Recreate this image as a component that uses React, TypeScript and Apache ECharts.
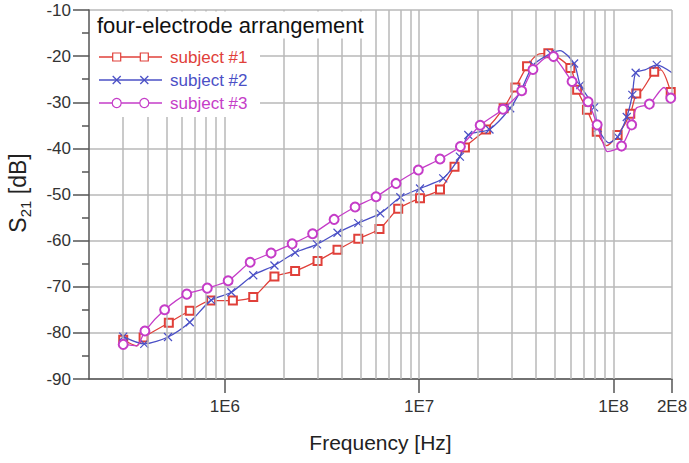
import React, { useEffect, useRef } from "react";
import * as echarts from "echarts";

// [frequency Hz, S21 dB, marker shown (1) or line-only point (0)]
const subject1: number[][] = [
  [3.0e5, -81.5, 1], [3.52e5, -82.8, 0], [3.82e5, -81.0, 1], [5.15e5, -77.8, 1],
  [6.6e5, -75.2, 1], [8.5e5, -73.0, 1], [1.1e6, -73.0, 1], [1.4e6, -72.2, 1],
  [1.8e6, -67.8, 1], [2.3e6, -66.6, 1], [3.0e6, -64.4, 1], [3.8e6, -62.0, 1],
  [4.86e6, -59.6, 1], [6.25e6, -57.5, 1], [7.8e6, -53.1, 1], [1.01e7, -50.8, 1],
  [1.28e7, -48.9, 1], [1.52e7, -44.0, 1], [1.72e7, -39.8, 1], [2.21e7, -35.9, 1],
  [2.72e7, -31.3, 1], [3.13e7, -26.8, 1], [3.59e7, -22.2, 1], [4.1e7, -19.6, 0],
  [4.62e7, -19.4, 1], [6.0e7, -22.6, 1], [6.5e7, -27.3, 1], [7.3e7, -31.6, 1],
  [8.2e7, -36.4, 1], [9.2e7, -39.4, 0], [1.05e8, -37.1, 1], [1.22e8, -32.5, 1],
  [1.31e8, -28.1, 1], [1.4e8, -27.4, 0], [1.62e8, -23.4, 1], [1.75e8, -23.0, 0],
  [1.97e8, -27.8, 1],
];
const subject2: number[][] = [
  [3.0e5, -80.8, 1], [3.85e5, -82.4, 1], [5.1e5, -80.9, 1], [6.6e5, -77.7, 1],
  [8.5e5, -72.9, 1], [1.08e6, -71.2, 1], [1.4e6, -67.5, 1], [1.8e6, -65.4, 1],
  [2.3e6, -62.6, 1], [2.98e6, -60.8, 1], [3.8e6, -58.3, 1], [4.86e6, -56.2, 1],
  [6.3e6, -54.1, 1], [8.0e6, -50.6, 1], [1.01e7, -48.7, 1], [1.33e7, -46.5, 1],
  [1.62e7, -41.8, 1], [1.79e7, -37.1, 1], [2.3e7, -35.9, 1], [2.94e7, -31.3, 1],
  [3.37e7, -27.1, 1], [3.87e7, -21.9, 1], [4.75e7, -19.4, 1], [5.3e7, -18.8, 0],
  [6.27e7, -21.6, 1], [6.75e7, -26.3, 1], [7.95e7, -31.1, 1], [8.3e7, -35.6, 1],
  [9.5e7, -38.8, 0], [1.05e8, -37.5, 1], [1.17e8, -33.2, 1], [1.25e8, -28.4, 1],
  [1.3e8, -23.6, 1], [1.45e8, -23.0, 0], [1.67e8, -21.9, 1], [2.0e8, -23.6, 0],
];
const subject3: number[][] = [
  [3.0e5, -82.5, 1], [3.52e5, -82.8, 0], [3.88e5, -79.6, 1], [4.9e5, -75.0, 1],
  [6.37e5, -71.6, 1], [8.12e5, -70.3, 1], [1.04e6, -68.7, 1], [1.35e6, -64.7, 1],
  [1.73e6, -62.7, 1], [2.22e6, -60.7, 1], [2.83e6, -58.5, 1], [3.65e6, -55.4, 1],
  [4.68e6, -52.7, 1], [6.0e6, -50.5, 1], [7.6e6, -47.6, 1], [9.9e6, -44.7, 1],
  [1.28e7, -42.3, 1], [1.63e7, -39.6, 1], [2.06e7, -35.0, 1], [2.7e7, -31.5, 1],
  [3.37e7, -27.5, 1], [3.85e7, -22.9, 1], [4.7e7, -20.0, 0], [4.91e7, -20.1, 1],
  [6.12e7, -25.5, 1], [7.4e7, -29.9, 1], [8.24e7, -34.9, 1], [8.74e7, -38.2, 0],
  [9.3e7, -40.7, 0], [1.1e8, -39.5, 1], [1.24e8, -34.9, 1], [1.31e8, -31.3, 0],
  [1.53e8, -30.4, 1], [1.82e8, -26.8, 0], [1.97e8, -29.1, 1],
];

const seriesNames = ["subject #1", "subject #2", "subject #3"];
const seriesColors = ["#e0403a", "#4b50c6", "#c53dc8"];
const legendTitle = "four-electrode arrangement";

const xTickValues = [1e6, 1e7, 1e8, 2e8];
const xTickLabels = ["1E6", "1E7", "1E8", "2E8"];
const xGridValues = [
  3e5, 4e5, 5e5, 6e5, 7e5, 8e5, 9e5, 1e6,
  2e6, 3e6, 4e6, 5e6, 6e6, 7e6, 8e6, 9e6, 1e7,
  2e7, 3e7, 4e7, 5e7, 6e7, 7e7, 8e7, 9e7, 1e8, 2e8,
];

const FONT = "'Liberation Sans', Arial, Helvetica, sans-serif";
const GRID = "#b8b8b8";
const AXIS = "#555555";
const X_SYMBOL = "path://M0,0L10,10M10,0L0,10";

const toData = (arr: number[][]) =>
  arr.map(([f, v, m]) => (m ? [f, v] : { value: [f, v], symbol: "none" }));

export default function App() {
  const ref = useRef<HTMLDivElement>(null);

  useEffect(() => {
    document.body.style.margin = "0";
    if (!ref.current) return;
    const chart = echarts.init(ref.current, null, { renderer: "svg" });

    const symbols = ["emptyRect", X_SYMBOL, "emptyCircle"];
    const sizes = [8, 8, 9];
    const datasets = [subject1, subject2, subject3];

    const legendEls: any[] = [
      { type: "rect", z: 100, shape: { x: 90, y: 11.5, width: 280, height: 27 }, style: { fill: "#fff" } },
      { type: "rect", z: 100, shape: { x: 90, y: 38, width: 170, height: 79 }, style: { fill: "#fff" } },
      {
        type: "text", z: 101, x: 97, y: 25,
        style: { text: legendTitle, fontSize: 22, fontFamily: FONT, fill: "#111", verticalAlign: "middle", align: "left" },
      },
      {
        type: "text", z: 101, x: 18, y: 193, rotation: Math.PI / 2,
        style: {
          text: "{a|S}{b|21}{a| [dB]}",
          align: "center",
          verticalAlign: "middle",
          fill: "#222",
          rich: {
            a: { fontSize: 23, fontFamily: FONT, lineHeight: 30, fill: "#222" },
            b: { fontSize: 15, fontFamily: FONT, lineHeight: 15, verticalAlign: "bottom", fill: "#222" },
          },
        },
      },
    ];
    seriesNames.forEach((name, i) => {
      const y = 57 + 23 * i;
      const c = seriesColors[i];
      legendEls.push({ type: "line", z: 101, shape: { x1: 99, y1: y, x2: 162, y2: y }, style: { stroke: c, lineWidth: 1.3 } });
      [116.7, 144.3].forEach((mx) => {
        if (i === 0) {
          legendEls.push({ type: "rect", z: 102, shape: { x: mx - 4, y: y - 4, width: 8, height: 8 }, style: { fill: "#fff", stroke: c, lineWidth: 1.2 } });
        } else if (i === 1) {
          legendEls.push({ type: "line", z: 102, shape: { x1: mx - 4, y1: y - 4, x2: mx + 4, y2: y + 4 }, style: { stroke: c, lineWidth: 1.3 } });
          legendEls.push({ type: "line", z: 102, shape: { x1: mx - 4, y1: y + 4, x2: mx + 4, y2: y - 4 }, style: { stroke: c, lineWidth: 1.3 } });
        } else {
          legendEls.push({ type: "circle", z: 102, shape: { cx: mx, cy: y, r: 4.5 }, style: { fill: "#fff", stroke: c, lineWidth: 1.2 } });
        }
      });
      legendEls.push({
        type: "text", z: 101, x: 170, y: y,
        style: { text: name, fontSize: 17, fontFamily: FONT, fill: c, verticalAlign: "middle", align: "left" },
      });
    });

    const option: any = {
      animation: false,
      backgroundColor: "#fff",
      grid: { left: 89, right: 17, top: 10, bottom: 84, containLabel: false, outerBoundsMode: "none" },
      xAxis: {
        type: "log",
        logBase: 10,
        min: 2e5,
        max: 2e8,
        name: "Frequency [Hz]",
        nameLocation: "middle",
        nameGap: 53,
        nameTextStyle: { fontSize: 21, fontFamily: FONT, color: "#222" },
        axisLine: { show: true, onZero: false, lineStyle: { color: AXIS, width: 1.5 } },
        axisTick: { show: true, length: 14, lineStyle: { color: AXIS, width: 1.5 } },
        minorTick: { show: false },
        splitLine: { show: false },
        axisLabel: {
          margin: 19,
          fontSize: 17,
          fontFamily: FONT,
          color: "#333",
          showMinLabel: false,
          showMaxLabel: true,
          formatter: (v: number) => {
            const i = xTickValues.findIndex((t) => Math.abs(Math.log10(t) - Math.log10(v)) < 1e-4);
            return i >= 0 ? xTickLabels[i] : "";
          },
        },
      },
      yAxis: {
        type: "value",
        min: -90,
        max: -10,
        interval: 10,
        axisLine: { show: true, onZero: false, lineStyle: { color: AXIS, width: 1.5 } },
        axisTick: { show: true, length: 16, lineStyle: { color: AXIS, width: 1.5 } },
        minorTick: { show: true, splitNumber: 2, length: 7, lineStyle: { color: AXIS, width: 1.5 } },
        splitLine: { show: true, lineStyle: { color: GRID, width: 1.5 } },
        axisLabel: { margin: 18, fontSize: 17, fontFamily: FONT, color: "#333" },
      },
      graphic: { elements: legendEls },
      series: [
        {
          type: "line",
          name: "grid",
          data: [],
          z: 1,
          silent: true,
          markLine: {
            silent: true,
            symbol: ["none", "none"],
            label: { show: false },
            emphasis: { disabled: true },
            lineStyle: { color: GRID, width: 1.5, type: "solid" },
            data: xGridValues.map((v) => ({ xAxis: v })),
          },
        },
        ...datasets.map((d, i) => ({
          type: "line",
          name: seriesNames[i],
          data: toData(d),
          z: 3 + i,
          smooth: 0.25,
          symbol: symbols[i],
          symbolSize: sizes[i],
          showAllSymbol: true,
          lineStyle: { color: seriesColors[i], width: 1.3 },
          itemStyle: { color: seriesColors[i], borderColor: seriesColors[i], borderWidth: 1.2 },
          emphasis: { disabled: true },
        })),
      ],
    };

    chart.setOption(option);
    return () => chart.dispose();
  }, []);

  return <div ref={ref} style={{ width: 689, height: 463 }} />;
}
